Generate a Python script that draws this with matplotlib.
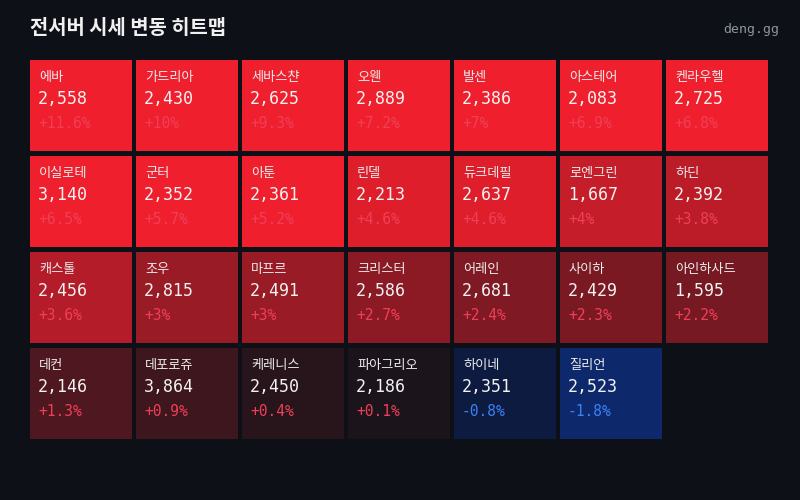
import matplotlib
matplotlib.use('Agg')
import matplotlib.pyplot as plt
from matplotlib.patches import Rectangle
import numpy as np

plt.rcParams['font.family'] = ['Noto Sans CJK KR', 'DejaVu Sans']

# data, row by row (7 per row)
names = ['에바', '가드리아', '세바스챤', '오웬', '발센', '아스테어', '켄라우헬',
         '이실로테', '군터', '아툰', '린델', '듀크데필', '로엔그린', '하딘',
         '캐스톨', '조우', '마프르', '크리스터', '어레인', '사이하', '아인하사드',
         '데컨', '데포로쥬', '케레니스', '파아그리오', '하이네', '질리언']
prices = [2558, 2430, 2625, 2889, 2386, 2083, 2725,
          3140, 2352, 2361, 2213, 2637, 1667, 2392,
          2456, 2815, 2491, 2586, 2681, 2429, 1595,
          2146, 3864, 2450, 2186, 2351, 2523]
changes = [11.6, 10, 9.3, 7.2, 7, 6.9, 6.8,
           6.5, 5.7, 5.2, 4.6, 4.6, 4, 3.8,
           3.6, 3, 3, 2.7, 2.4, 2.3, 2.2,
           1.3, 0.9, 0.4, 0.1, -0.8, -1.8]

BG = '#0d1117'
red_base = np.array([23, 20, 26]) / 255
red_end = np.array([240, 31, 45]) / 255
blue_base = np.array([12, 17, 32]) / 255
blue_end = np.array([16, 80, 240]) / 255


def tile_color(p):
    t = min(abs(p) / 5.0, 1.0)
    if p >= 0:
        return tuple(red_base + (red_end - red_base) * t)
    return tuple(blue_base + (blue_end - blue_base) * t)


fig = plt.figure(figsize=(8, 5), dpi=100, facecolor=BG)
ax = fig.add_axes([0, 0, 1, 1])
ax.set_xlim(0, 800)
ax.set_ylim(500, 0)
ax.axis('off')
ax.set_facecolor(BG)

ax.text(30, 28, '전서버 시세 변동 히트맵', color='#f0f0f0', fontsize=14.3,
        fontweight='bold', ha='left', va='center')
ax.text(779, 30, 'deng.gg', color='#8b949e', fontsize=9.5,
        family='DejaVu Sans Mono', ha='right', va='center')

ncols = 7
x0, y0 = 30, 60
w, h = 101.5, 91
px, py = 106, 96

for i, (nm, pr, ch) in enumerate(zip(names, prices, changes)):
    r, c = divmod(i, ncols)
    x = x0 + c * px
    y = y0 + r * py
    ax.add_patch(Rectangle((x, y), w, h, facecolor=tile_color(ch),
                           edgecolor='none'))
    ax.text(x + 9, y + 17, nm, color='#ececec', fontsize=9.5,
            ha='left', va='center')
    ax.text(x + 8, y + 39, f'{pr:,}', color='#f2f2f2', fontsize=12,
            family='DejaVu Sans Mono', ha='left', va='center')
    pct = f'{ch:+g}%'
    pc = '#ef3f58' if ch >= 0 else '#3b82f6'
    ax.text(x + 8, y + 63, pct, color=pc, fontsize=10.5,
            family='DejaVu Sans Mono', ha='left', va='center')

fig.savefig('out.png', dpi=100, facecolor=BG)
